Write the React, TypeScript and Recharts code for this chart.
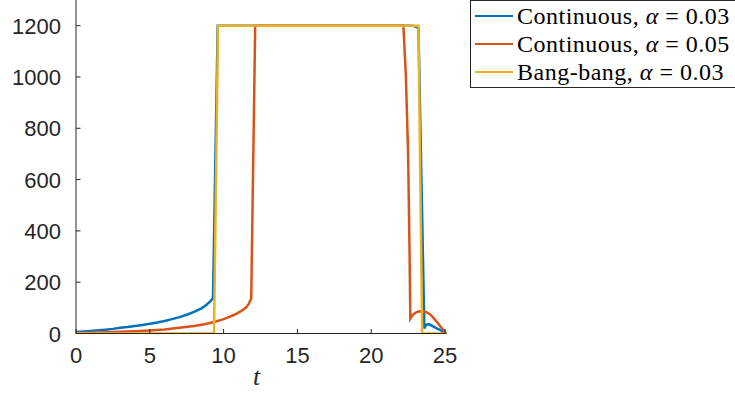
import React from "react"
import { LineChart, Line, XAxis, YAxis } from "recharts"

// t values and series values
const blueT = [0, 0.5, 1, 1.5, 2, 2.5, 3, 3.5, 4, 4.5, 5, 5.5, 6, 6.5, 7, 7.5, 8, 8.5, 8.8, 9.1, 9.28, 9.6, 22.8, 23.2, 23.6, 23.7, 23.8, 23.95, 24.26, 24.5, 24.7, 24.9, 25.1]
const blueY = [6, 8, 10, 12.5, 15, 18, 22, 25, 29, 33, 38, 43, 49, 56, 64, 73, 84, 98, 110, 125, 138, 1200, 1200, 1192, 20, 32, 36, 35, 26, 18, 13, 6, 0]

const redT = [0, 1, 2, 3, 4, 5, 6, 7, 8, 8.7, 9.35, 9.9, 10.4, 10.8, 11.2, 11.5, 11.7, 11.87, 12.14, 22.18, 22.35, 22.5, 22.6, 22.65, 22.8, 23, 23.2, 23.47, 23.7, 24, 24.26, 24.5, 24.7, 24.9, 25.1]
const redY = [2, 3, 5, 7, 9, 12, 16, 22, 29, 36, 45, 54, 65, 75, 88, 100, 115, 137, 1200, 1200, 1000, 700, 300, 58, 72, 81, 86, 87, 84, 74, 58, 42, 26, 13, 0]

const yellowT = [0, 9.35, 9.62, 23.2, 23.45, 25.1]
const yellowY = [0, 0, 1200, 1200, 0, 0]

const xTicks = [0, 5, 10, 15, 20, 25]
const yTicks = [0, 200, 400, 600, 800, 1000, 1200]

const seriesNames = ["Continuous, ", "Continuous, ", "Bang-bang, "]
const seriesAlpha = ["0.03", "0.05", "0.03"]
const colors = ["#0072BD", "#D95319", "#EDB120"]

const toData = (ts: number[], ys: number[]) => ts.map((t, i) => ({ t, v: ys[i] }))

const axisColor = "#262626"
const tickFont = "'Liberation Sans', Arial, sans-serif"
const serif = "'Liberation Serif', 'Times New Roman', serif"

const XTick = ({ x, y, payload }: any) => (
  <g>
    <line x1={x} y1={y} x2={x} y2={y - 4.5} stroke={axisColor} strokeWidth={1} />
    <text x={x} y={y + 29} textAnchor="middle" fontSize={22} fontFamily={tickFont} fill={axisColor}>
      {payload.value}
    </text>
  </g>
)

const YTick = ({ x, y, payload }: any) => (
  <g>
    <line x1={x} y1={y} x2={x + 4.5} y2={y} stroke={axisColor} strokeWidth={1} />
    <text x={x - 15} y={y + 8} textAnchor="end" fontSize={22} fontFamily={tickFont} fill={axisColor}>
      {payload.value}
    </text>
  </g>
)

export default function App() {
  return (
    <div style={{ position: "absolute", left: 0, top: 0, width: 735, height: 396, background: "#fff", overflow: "hidden" }}>
      <LineChart width={735} height={396} margin={{ top: 0, right: 288.5, left: 0, bottom: 22.5 }}>
        <XAxis
          type="number"
          dataKey="t"
          domain={[0, 25.1]}
          ticks={xTicks}
          tickSize={0}
          tickMargin={0}
          tickLine={false}
          tick={<XTick />}
          height={40}
          stroke={axisColor}
          allowDataOverflow
        />
        <YAxis
          type="number"
          dataKey="v"
          domain={[0, 1300]}
          ticks={yTicks}
          tickSize={0}
          tickMargin={0}
          tickLine={false}
          tick={<YTick />}
          width={76}
          stroke={axisColor}
          allowDataOverflow
        />
        <Line data={toData(blueT, blueY)} dataKey="v" stroke={colors[0]} strokeWidth={2.5} dot={false} isAnimationActive={false} />
        <Line data={toData(redT, redY)} dataKey="v" stroke={colors[1]} strokeWidth={2.5} dot={false} isAnimationActive={false} />
        <Line data={toData(yellowT, yellowY)} dataKey="v" stroke={colors[2]} strokeWidth={2.5} dot={false} isAnimationActive={false} />
      </LineChart>
      <div
        style={{
          position: "absolute",
          left: 470,
          top: 0,
          border: "1px solid #262626",
          background: "#fff",
          width: 280,
          height: 88,
          boxSizing: "border-box",
          paddingLeft: 4,
          fontFamily: serif,
          fontSize: 24,
          letterSpacing: 0.5,
          color: "#000",
        }}
      >
        {seriesNames.map((name, i) => (
          <div key={i} style={{ display: "flex", alignItems: "center", height: 28, marginTop: i === 0 ? 1 : 0 }}>
            <span style={{ display: "inline-block", width: 38, height: 2.5, background: colors[i], marginRight: 4, flexShrink: 0 }} />
            <span style={{ whiteSpace: "nowrap" }}>
              {name}
              <i>α</i> = {seriesAlpha[i]}
            </span>
          </div>
        ))}
      </div>
      <div
        style={{
          position: "absolute",
          left: 253,
          top: 362,
          fontFamily: serif,
          fontStyle: "italic",
          fontSize: 26,
          color: axisColor,
        }}
      >
        t
      </div>
    </div>
  )
}
